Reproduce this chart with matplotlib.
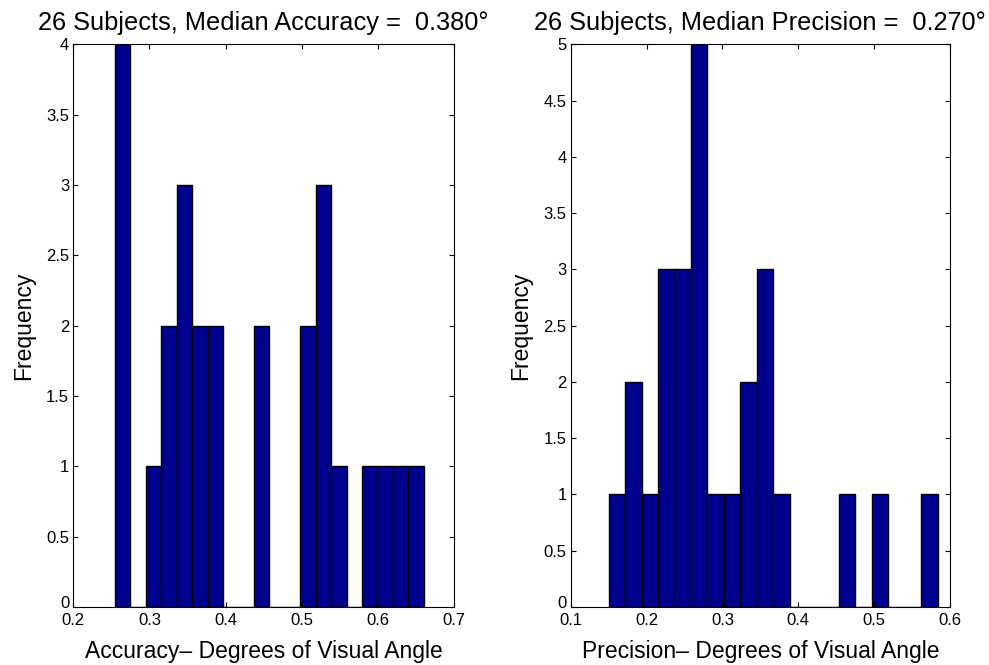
import numpy as np
import matplotlib
matplotlib.use("Agg")
import matplotlib.pyplot as plt
import matplotlib.transforms as mtransforms
from matplotlib.ticker import FuncFormatter, MultipleLocator

plt.rcParams['font.family'] = ['Liberation Sans', 'DejaVu Sans']

# Accuracy histogram (20 bins)
acc_counts = [4, 0, 1, 2, 3, 2, 2, 0, 0, 2, 0, 0, 2, 3, 1, 0, 1, 1, 1, 1]
acc_min, acc_max = 0.2548, 0.6602
acc_title = "26 Subjects, Median Accuracy =  0.380°"
acc_xlabel = "Accuracy– Degrees of Visual Angle"

# Precision histogram (20 bins)
prec_counts = [1, 2, 1, 3, 3, 5, 1, 1, 2, 3, 1, 0, 0, 0, 1, 0, 1, 0, 0, 1]
prec_min, prec_max = 0.1501, 0.5838
prec_title = "26 Subjects, Median Precision =  0.270°"
prec_xlabel = "Precision– Degrees of Visual Angle"

bar_color = "#00008F"

fig = plt.figure(figsize=(9.89, 6.65), dpi=100)
ax1 = fig.add_axes([73.3/989, 1-607/665, (454-73.3)/989, (607-44.3)/665])
ax2 = fig.add_axes([570.7/989, 1-607/665, (950-570.7)/989, (607-44.3)/665])

def draw(ax, counts, lo, hi, title, xlabel, xlim, ylim):
    edges = np.linspace(lo, hi, len(counts) + 1)
    ax.hist(edges[:-1], bins=edges, weights=counts, color=bar_color,
            edgecolor="black", linewidth=1.0)
    ax.set_xlim(*xlim)
    ax.set_ylim(*ylim)
    ax.set_xticks(np.arange(xlim[0], xlim[1] + 1e-9, 0.1))
    ax.set_yticks(np.arange(ylim[0], ylim[1] + 1e-9, 0.5))
    fmt = FuncFormatter(lambda v, p: "%g" % round(v, 3))
    ax.xaxis.set_major_formatter(fmt)
    ax.yaxis.set_major_formatter(fmt)
    ax.tick_params(direction="in", top=True, right=True, length=3.6,
                   width=0.8, labelsize=12)
    ax.tick_params(axis="x", pad=4)
    ax.tick_params(axis="y", pad=3)
    for s in ax.spines.values():
        s.set_linewidth(0.8)
    ax.set_title(title, fontsize=18.3, pad=10)
    ax.set_xlabel(xlabel, fontsize=16.5, labelpad=9)
    ax.set_ylabel("Frequency", fontsize=16.5, labelpad=8)

draw(ax1, acc_counts, acc_min, acc_max, acc_title, acc_xlabel, (0.2, 0.7), (0, 4))
draw(ax2, prec_counts, prec_min, prec_max, prec_title, prec_xlabel, (0.1, 0.6), (0, 5))

# nudge the bottom y tick label ("0") up slightly, as in the reference
fig.canvas.draw()
shift = mtransforms.ScaledTranslation(0, 5/100, fig.dpi_scale_trans)
for ax in (ax1, ax2):
    for t in ax.yaxis.get_major_ticks():
        if abs(t.get_loc()) < 1e-9:
            t.label1.set_transform(t.label1.get_transform() + shift)

fig.savefig("out.png", dpi=100)
